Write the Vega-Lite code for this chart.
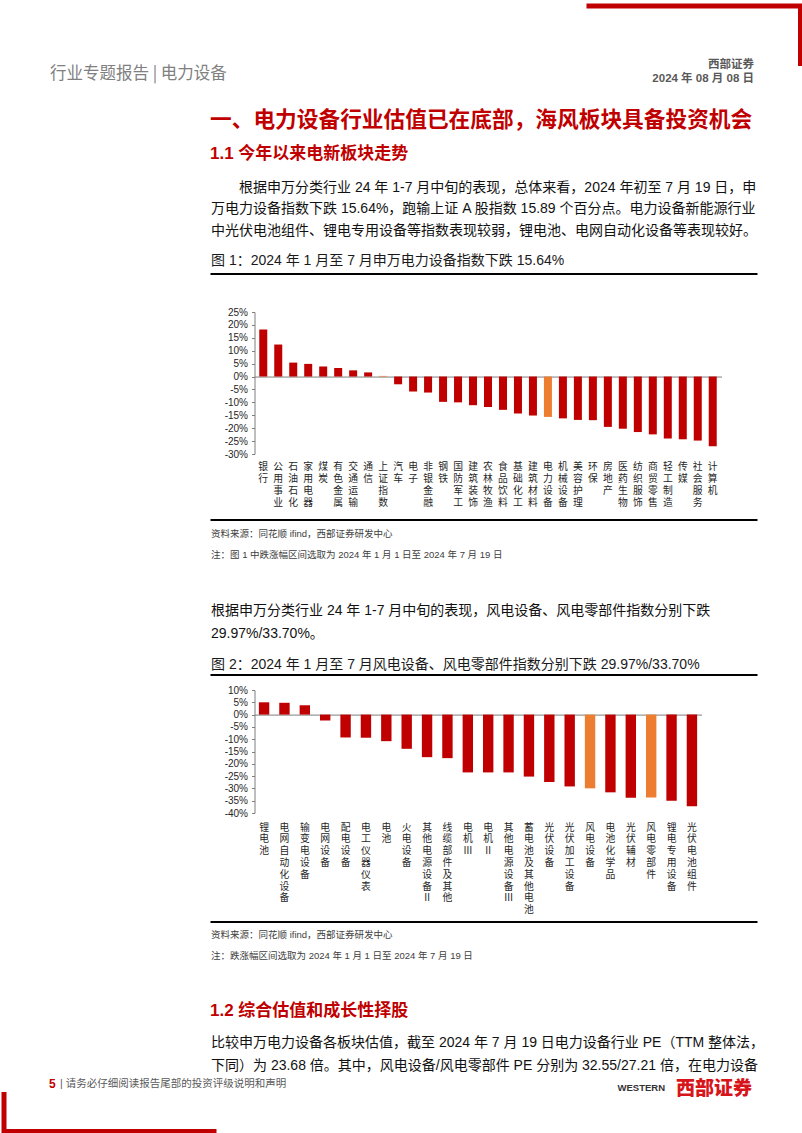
{
  "$schema": "https://vega.github.io/schema/vega-lite/v6.json",
  "padding": {"left": 0, "top": 3, "right": 0, "bottom": 3},
  "background": "white",
  "spacing": 0,
  "bounds": "flush",
  "config": {"view": {"stroke": null}, "axis": {"grid": false}, "font": "Noto Sans CJK SC"},
  "vconcat": [
    {
      "width": 796.5, "height": 60,
      "view": {"stroke": "#C00000", "strokeWidth": 5, "strokeDash": [0, 582.5, 274, 3000]},
      "data": {"values": [{}]}, "mark": {"type": "point", "opacity": 0}
    },
    {
      "width": 797, "height": 74.5,
      "data": {"values": [{}]},
      "layer": [
        {
          "mark": {"type": "point", "opacity": 0},
          "encoding": {
            "x": {"datum": 0, "type": "quantitative", "scale": {"domain": [0, 1]},
              "axis": {"orient": "bottom", "labels": false, "ticks": false, "domain": false, "grid": false,
                "title": "一、电力设备行业估值已在底部，海风板块具备投资机会",
                "titleX": 205.5, "titleY": -21.5, "titleAlign": "left", "titleAnchor": "start", "titleBaseline": "middle", "titleAngle": 0,
                "titleFont": "Noto Sans CJK SC", "titleFontSize": 21.7, "titleFontWeight": "bold", "titleColor": "#C00000", "titleLimit": 2000}},
            "y": {"datum": 0, "type": "quantitative", "scale": {"domain": [0, 1]},
              "axis": {"orient": "left", "labels": false, "ticks": false, "domain": false, "grid": false,
                "title": "行业专题报告 | 电力设备",
                "titleX": 45.5, "titleY": 7.5, "titleAlign": "left", "titleAnchor": "start", "titleBaseline": "middle", "titleAngle": 0,
                "titleFont": "Noto Sans CJK SC", "titleFontSize": 16.5, "titleFontWeight": "normal", "titleColor": "#808080", "titleLimit": 2000}}
          }
        },
        {
          "mark": {"type": "point", "opacity": 0},
          "encoding": {
            "x": {"datum": 0, "type": "quantitative", "scale": {"domain": [0, 1]}, "axis": null},
            "y": {"datum": 0, "type": "quantitative", "scale": {"domain": [0, 1]},
              "axis": {"orient": "right", "labels": false, "ticks": false, "domain": false, "grid": false,
                "title": ["西部证券", "2024 年 08 月 08 日"],
                "titleX": -47.5, "titleY": -7.5, "titleAlign": "right", "titleAnchor": "start", "titleBaseline": "top", "titleAngle": 0, "titleLineHeight": 13.5,
                "titleFont": "Liberation Sans, Noto Sans CJK SC", "titleFontSize": 11.5, "titleFontWeight": "bold", "titleColor": "#595959", "titleLimit": 2000}}
          }
        }
      ],
      "resolve": {"scale": {"x": "independent", "y": "independent"}, "axis": {"x": "independent", "y": "independent"}}
    },
    {
      "width": 797, "height": 132.25,
      "data": {"values": [{}]},
      "layer": [
        {
          "mark": {"type": "point", "opacity": 0},
          "encoding": {
            "x": {"datum": 0, "type": "quantitative", "scale": {"domain": [0, 1]},
              "axis": {"orient": "bottom", "labels": false, "ticks": false, "domain": false, "grid": false,
                "title": "图 1：2024 年 1 月至 7 月申万电力设备指数下跌 15.64%",
                "titleX": 206.5, "titleY": -13.25, "titleAlign": "left", "titleAnchor": "start", "titleBaseline": "middle", "titleAngle": 0,
                "titleFont": "Liberation Sans, Noto Sans CJK SC", "titleFontSize": 14, "titleFontWeight": "normal", "titleColor": "#1a1a1a", "titleLimit": 2000}},
            "y": {"datum": 0, "type": "quantitative", "scale": {"domain": [0, 1]},
              "axis": {"orient": "left", "labels": false, "ticks": false, "domain": false, "grid": false,
                "title": ["\u200b\u3000\u3000根据申万分类行业 24 年 1-7 月中旬的表现，总体来看，2024 年初至 7 月 19 日，申", "万电力设备指数下跌 15.64%，跑输上证 A 股指数 15.89 个百分点。电力设备新能源行业", "中光伏电池组件、锂电专用设备等指数表现较弱，锂电池、电网自动化设备等表现较好。"],
                "titleX": 206.5, "titleY": 39.3, "titleAlign": "left", "titleAnchor": "start", "titleBaseline": "top", "titleAngle": 0, "titleLineHeight": 21.7,
                "titleFont": "Liberation Sans, Noto Sans CJK SC", "titleFontSize": 14, "titleFontWeight": "normal", "titleColor": "#111111", "titleLimit": 2000}}
          }
        },
        {
          "mark": {"type": "point", "opacity": 0},
          "encoding": {
            "x": {"datum": 0, "type": "quantitative", "scale": {"domain": [0, 1]},
              "axis": {"orient": "top", "labels": false, "ticks": false, "domain": false, "grid": false,
                "title": "1.1 今年以来电新板块走势",
                "titleX": 205.5, "titleY": 12, "titleAlign": "left", "titleAnchor": "start", "titleBaseline": "middle", "titleAngle": 0,
                "titleFont": "Liberation Sans, Noto Sans CJK SC", "titleFontSize": 17, "titleFontWeight": "bold", "titleColor": "#C00000", "titleLimit": 2000}},
            "y": {"datum": 0, "type": "quantitative", "scale": {"domain": [0, 1]}, "axis": null}
          }
        }
      ],
      "resolve": {"scale": {"x": "independent", "y": "independent"}, "axis": {"x": "independent", "y": "independent"}}
    },
    {
      "width": 797, "height": 37.75,
      "view": {"stroke": "#000000", "strokeWidth": 2, "strokeDash": [0, 206.5, 547, 3000]},
      "data": {"values": [{}]}, "mark": {"type": "point", "opacity": 0}
    },
    {
      "width": 797, "height": 142,
      "data": {"values": [
        {"name": "银行", "value": 18.2, "group": "base"},
        {"name": "公用事业", "value": 12.4, "group": "base"},
        {"name": "石油石化", "value": 5.4, "group": "base"},
        {"name": "家用电器", "value": 4.9, "group": "base"},
        {"name": "煤炭", "value": 3.9, "group": "base"},
        {"name": "有色金属", "value": 3.3, "group": "base"},
        {"name": "交通运输", "value": 2.4, "group": "base"},
        {"name": "通信", "value": 1.6, "group": "base"},
        {"name": "上证指数", "value": 0.25, "group": "focus"},
        {"name": "汽车", "value": -3.0, "group": "base"},
        {"name": "电子", "value": -5.8, "group": "base"},
        {"name": "非银金融", "value": -6.2, "group": "base"},
        {"name": "钢铁", "value": -9.8, "group": "base"},
        {"name": "国防军工", "value": -10.0, "group": "base"},
        {"name": "建筑装饰", "value": -11.1, "group": "base"},
        {"name": "农林牧渔", "value": -11.8, "group": "base"},
        {"name": "食品饮料", "value": -12.9, "group": "base"},
        {"name": "基础化工", "value": -14.3, "group": "base"},
        {"name": "建筑材料", "value": -15.1, "group": "base"},
        {"name": "电力设备", "value": -15.64, "group": "focus"},
        {"name": "机械设备", "value": -16.2, "group": "base"},
        {"name": "美容护理", "value": -16.8, "group": "base"},
        {"name": "环保", "value": -16.9, "group": "base"},
        {"name": "房地产", "value": -19.5, "group": "base"},
        {"name": "医药生物", "value": -20.2, "group": "base"},
        {"name": "纺织服饰", "value": -21.5, "group": "base"},
        {"name": "商贸零售", "value": -22.4, "group": "base"},
        {"name": "轻工制造", "value": -24.0, "group": "base"},
        {"name": "传媒", "value": -24.3, "group": "base"},
        {"name": "社会服务", "value": -24.8, "group": "base"},
        {"name": "计算机", "value": -27.0, "group": "base"}
      ]},
      "mark": {"type": "bar"},
      "encoding": {
        "x": {"field": "name", "type": "nominal", "sort": null,
          "scale": {"range": [250.5, 717.5], "paddingInner": 0.466, "paddingOuter": 0.318},
          "axis": {"orient": "bottom", "offset": -77.45, "domain": true, "domainColor": "#7f7f7f", "domainWidth": 1, "ticks": false,
            "labelAngle": 0, "labelExpr": "split(datum.label, '')", "labelPadding": 85.3, "labelBaseline": "top", "labelAlign": "center",
            "labelLineHeight": 11.8, "labelFontSize": 9.8, "labelFont": "Noto Sans CJK SC", "labelColor": "#262626", "labelOverlap": false, "labelBound": false,
            "title": ["资料来源：同花顺 ifind，西部证券研发中心", "注：图 1 中跌涨幅区间选取为 2024 年 1 月 1 日至 2024 年 7 月 19 日"],
            "titleX": 206.5, "titleY": 151.6, "titleAlign": "left", "titleAnchor": "start", "titleBaseline": "top", "titleAngle": 0, "titleLineHeight": 21.7,
            "titleFont": "Liberation Sans, Noto Sans CJK SC", "titleFontSize": 9.5, "titleFontWeight": "normal", "titleColor": "#404040", "titleLimit": 2000}},
        "y": {"field": "value", "type": "quantitative", "scale": {"domain": [-30, 25], "nice": false},
          "axis": {"offset": -250.5, "values": [-30, -25, -20, -15, -10, -5, 0, 5, 10, 15, 20, 25], "labelExpr": "datum.value + '%'",
            "labelFont": "Liberation Sans", "labelFontSize": 10, "labelColor": "#262626", "labelPadding": 4, "tickSize": 3, "tickColor": "#7f7f7f",
            "domainColor": "#7f7f7f", "title": null, "grid": false}},
        "color": {"field": "group", "type": "nominal", "scale": {"domain": ["base", "focus"], "range": ["#C00000", "#ED7D31"]}, "legend": null}
      }
    },
    {
      "width": 797, "height": 65.25,
      "data": {"values": [{}]}, "mark": {"type": "point", "opacity": 0}
    },
    {
      "width": 797, "height": 155,
      "view": {"stroke": "#000000", "strokeWidth": 2, "strokeDash": [0, 206.5, 547, 3000]},
      "data": {"values": [{}]},
      "mark": {"type": "point", "opacity": 0},
      "encoding": {
        "x": {"datum": 0, "type": "quantitative", "scale": {"domain": [0, 1]},
          "axis": {"orient": "bottom", "labels": false, "ticks": false, "domain": false, "grid": false,
            "title": "图 2：2024 年 1 月至 7 月风电设备、风电零部件指数分别下跌 29.97%/33.70%",
            "titleX": 206.5, "titleY": -10.25, "titleAlign": "left", "titleAnchor": "start", "titleBaseline": "middle", "titleAngle": 0,
            "titleFont": "Liberation Sans, Noto Sans CJK SC", "titleFontSize": 14, "titleFontWeight": "normal", "titleColor": "#1a1a1a", "titleLimit": 2000}},
        "y": {"datum": 0, "type": "quantitative", "scale": {"domain": [0, 1]},
          "axis": {"orient": "left", "labels": false, "ticks": false, "domain": false, "grid": false,
            "title": ["根据申万分类行业 24 年 1-7 月中旬的表现，风电设备、风电零部件指数分别下跌", "29.97%/33.70%。"],
            "titleX": 206.5, "titleY": 83.75, "titleAlign": "left", "titleAnchor": "start", "titleBaseline": "top", "titleAngle": 0, "titleLineHeight": 22.5,
            "titleFont": "Liberation Sans, Noto Sans CJK SC", "titleFontSize": 14, "titleFontWeight": "normal", "titleColor": "#111111", "titleLimit": 2000}}
      }
    },
    {
      "width": 797, "height": 14.75,
      "view": {"stroke": "#000000", "strokeWidth": 2, "strokeDash": [0, 206.5, 547, 3000]},
      "data": {"values": [{}]}, "mark": {"type": "point", "opacity": 0}
    },
    {
      "width": 797, "height": 123,
      "data": {"values": [
        {"name": "锂电池", "value": 5.0, "group": "base"},
        {"name": "电网自动化设备", "value": 4.8, "group": "base"},
        {"name": "输变电设备", "value": 3.8, "group": "base"},
        {"name": "电网设备", "value": -2.4, "group": "base"},
        {"name": "配电设备", "value": -9.3, "group": "base"},
        {"name": "电工仪器仪表", "value": -9.4, "group": "base"},
        {"name": "电池", "value": -10.8, "group": "base"},
        {"name": "火电设备", "value": -13.9, "group": "base"},
        {"name": "其他电源设备Ⅱ", "value": -17.3, "group": "base"},
        {"name": "线缆部件及其他", "value": -17.7, "group": "base"},
        {"name": "电机Ⅲ", "value": -23.5, "group": "base"},
        {"name": "电机Ⅱ", "value": -23.5, "group": "base"},
        {"name": "其他电源设备Ⅲ", "value": -23.5, "group": "base"},
        {"name": "蓄电池及其他电池", "value": -25.2, "group": "base"},
        {"name": "光伏设备", "value": -27.4, "group": "base"},
        {"name": "光伏加工设备", "value": -29.2, "group": "base"},
        {"name": "风电设备", "value": -29.97, "group": "focus"},
        {"name": "电池化学品", "value": -31.6, "group": "base"},
        {"name": "光伏辅材", "value": -33.8, "group": "base"},
        {"name": "风电零部件", "value": -33.7, "group": "focus"},
        {"name": "锂电专用设备", "value": -35.0, "group": "base"},
        {"name": "光伏电池组件", "value": -37.3, "group": "base"}
      ]},
      "mark": {"type": "bar"},
      "encoding": {
        "x": {"field": "name", "type": "nominal", "sort": null,
          "scale": {"range": [250.5, 697.5], "paddingInner": 0.49, "paddingOuter": 0.215},
          "axis": {"orient": "bottom", "offset": -98.4, "domain": true, "domainColor": "#7f7f7f", "domainWidth": 1, "ticks": false,
            "labelAngle": 0, "labelExpr": "split(datum.label, '')", "labelPadding": 107.6, "labelBaseline": "top", "labelAlign": "center",
            "labelLineHeight": 11.8, "labelFontSize": 9.8, "labelFont": "Noto Sans CJK SC", "labelColor": "#262626", "labelOverlap": false, "labelBound": false,
            "title": ["资料来源：同花顺 ifind，西部证券研发中心", "注：跌涨幅区间选取为 2024 年 1 月 1 日至 2024 年 7 月 19 日"],
            "titleX": 206.5, "titleY": 214.5, "titleAlign": "left", "titleAnchor": "start", "titleBaseline": "top", "titleAngle": 0, "titleLineHeight": 21.7,
            "titleFont": "Liberation Sans, Noto Sans CJK SC", "titleFontSize": 9.5, "titleFontWeight": "normal", "titleColor": "#404040", "titleLimit": 2000}},
        "y": {"field": "value", "type": "quantitative", "scale": {"domain": [-40, 10], "nice": false},
          "axis": {"offset": -250.5, "values": [-40, -35, -30, -25, -20, -15, -10, -5, 0, 5, 10], "labelExpr": "datum.value + '%'",
            "labelFont": "Liberation Sans", "labelFontSize": 10, "labelColor": "#262626", "labelPadding": 4, "tickSize": 3, "tickColor": "#7f7f7f",
            "domainColor": "#7f7f7f", "title": null, "grid": false}},
        "color": {"field": "group", "type": "nominal", "scale": {"domain": ["base", "focus"], "range": ["#C00000", "#ED7D31"]}, "legend": null}
      }
    },
    {
      "width": 797, "height": 108.25,
      "data": {"values": [{}]},
      "layer": [
        {
          "mark": {"type": "point", "opacity": 0},
          "encoding": {
            "x": {"datum": 0, "type": "quantitative", "scale": {"domain": [0, 1]},
              "axis": {"orient": "bottom", "labels": false, "ticks": false, "domain": false, "grid": false,
                "title": "5",
                "titleX": 44.5, "titleY": 161.75, "titleAlign": "left", "titleAnchor": "start", "titleBaseline": "middle", "titleAngle": 0,
                "titleFont": "Liberation Sans", "titleFontSize": 12, "titleFontWeight": "bold", "titleColor": "#C00000", "titleLimit": 2000}},
            "y": {"datum": 0, "type": "quantitative", "scale": {"domain": [0, 1]}, "axis": null}
          }
        },
        {
          "mark": {"type": "point", "opacity": 0},
          "encoding": {
            "x": {"datum": 0, "type": "quantitative", "scale": {"domain": [0, 1]}, "axis": null},
            "y": {"datum": 0, "type": "quantitative", "scale": {"domain": [0, 1]},
              "axis": {"orient": "right", "labels": false, "ticks": false, "domain": false, "grid": false,
                "title": "WESTERN",
                "titleX": -136.5, "titleY": 274, "titleAlign": "right", "titleAnchor": "start", "titleBaseline": "middle", "titleAngle": 0,
                "titleFont": "Liberation Sans", "titleFontSize": 9.5, "titleFontWeight": "bold", "titleColor": "#333333", "titleLimit": 2000}}
          }
        }
      ],
      "resolve": {"scale": {"x": "independent", "y": "independent"}, "axis": {"x": "independent", "y": "independent"}}
    },
    {
      "width": 797, "height": 169.75,
      "view": {"stroke": "#000000", "strokeWidth": 2, "strokeDash": [0, 206.5, 547, 3000]},
      "data": {"values": [{}]},
      "layer": [
        {
          "mark": {"type": "point", "opacity": 0},
          "encoding": {
            "x": {"datum": 0, "type": "quantitative", "scale": {"domain": [0, 1]},
              "axis": {"orient": "top", "labels": false, "ticks": false, "domain": false, "grid": false,
                "title": "1.2 综合估值和成长性择股",
                "titleX": 205.5, "titleY": 88.75, "titleAlign": "left", "titleAnchor": "start", "titleBaseline": "middle", "titleAngle": 0,
                "titleFont": "Liberation Sans, Noto Sans CJK SC", "titleFontSize": 17, "titleFontWeight": "bold", "titleColor": "#C00000", "titleLimit": 2000}},
            "y": {"datum": 0, "type": "quantitative", "scale": {"domain": [0, 1]},
              "axis": {"orient": "left", "labels": false, "ticks": false, "domain": false, "grid": false,
                "title": ["比较申万电力设备各板块估值，截至 2024 年 7 月 19 日电力设备行业 PE（TTM 整体法，", "下同）为 23.68 倍。其中，风电设备/风电零部件 PE 分别为 32.55/27.21 倍，在电力设备"],
                "titleX": 206.5, "titleY": 113, "titleAlign": "left", "titleAnchor": "start", "titleBaseline": "top", "titleAngle": 0, "titleLineHeight": 23.3,
                "titleFont": "Liberation Sans, Noto Sans CJK SC", "titleFontSize": 14, "titleFontWeight": "normal", "titleColor": "#111111", "titleLimit": 2000}}
          }
        },
        {
          "mark": {"type": "point", "opacity": 0},
          "encoding": {
            "x": {"datum": 0, "type": "quantitative", "scale": {"domain": [0, 1]},
              "axis": {"orient": "bottom", "labels": false, "ticks": false, "domain": false, "grid": false,
                "title": "| 请务必仔细阅读报告尾部的投资评级说明和声明",
                "titleX": 55.5, "titleY": -8, "titleAlign": "left", "titleAnchor": "start", "titleBaseline": "middle", "titleAngle": 0,
                "titleFont": "Liberation Sans, Noto Sans CJK SC", "titleFontSize": 10.5, "titleFontWeight": "normal", "titleColor": "#595959", "titleLimit": 2000}},
            "y": {"datum": 0, "type": "quantitative", "scale": {"domain": [0, 1]},
              "axis": {"orient": "right", "labels": false, "ticks": false, "domain": false, "grid": false,
                "title": "西部证券",
                "titleX": -49.5, "titleY": 166.75, "titleAlign": "right", "titleAnchor": "start", "titleBaseline": "middle", "titleAngle": 0,
                "titleFont": "Noto Sans CJK SC", "titleFontSize": 19, "titleFontWeight": 900, "titleColor": "#D7141A", "titleLimit": 2000}}
          }
        }
      ],
      "resolve": {"scale": {"x": "independent", "y": "independent"}, "axis": {"x": "independent", "y": "independent"}}
    },
    {
      "width": 797, "height": 39.5,
      "view": {"stroke": "#C00000", "strokeWidth": 5, "strokeDash": [0, 1421, 252, 3000]},
      "data": {"values": [{}]}, "mark": {"type": "point", "opacity": 0}
    }
  ]
}
